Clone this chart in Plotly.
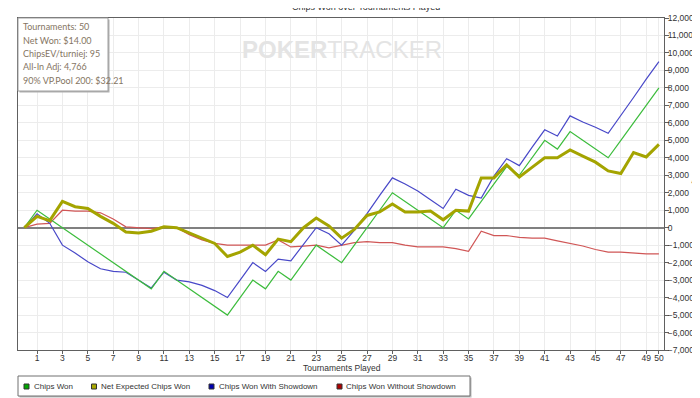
import plotly.graph_objects as go

tournaments = list(range(0, 51))

chips_won = [0, 1000, 500, 0, -500, -1000, -1500, -2000, -2500, -3000, -3500,
             -2500, -3000, -3500, -4000, -4500, -5000, -4000, -3000, -3500, -2500,
             -3000, -2000, -1000, -1500, -2000, -1000, 0, 1000, 2000, 1500,
             1000, 500, 0, 1000, 500, 1500, 2500, 3500, 3000, 4000,
             5000, 4500, 5500, 5000, 4500, 4000, 5000, 6000, 7000, 8000]

net_expected = [0, 650, 400, 1500, 1200, 1100, 650, 250, -250, -300, -200,
                50, 0, -300, -600, -900, -1650, -1400, -1000, -1550, -650,
                -800, 0, 550, 100, -600, -100, 700, 900, 1350, 900,
                900, 950, 450, 1000, 950, 2850, 2850, 3600, 2900, 3450,
                4000, 4000, 4450, 4100, 3750, 3250, 3100, 4300, 4050, 4766]

with_showdown = [0, 800, 250, -1000, -1450, -1950, -2350, -2500, -2550, -3000, -3450,
                 -2550, -3000, -3100, -3300, -3600, -4000, -3000, -2000, -2500, -1800,
                 -1900, -950, 0, -350, -1000, -150, 800, 1850, 2850, 2500,
                 2100, 1600, 1100, 2200, 1850, 1700, 2950, 3950, 3550, 4600,
                 5600, 5250, 6400, 6050, 5750, 5400, 6400, 7450, 8500, 9500]

without_showdown = [0, 200, 250, 1000, 950, 950, 850, 500, 50, 0, -50,
                    50, 0, -400, -700, -900, -1000, -1000, -1000, -1000, -700,
                    -1100, -1050, -1000, -1150, -1000, -850, -800, -850, -850, -1000,
                    -1100, -1100, -1100, -1200, -1350, -200, -450, -450, -550, -600,
                    -600, -750, -900, -1050, -1250, -1400, -1400, -1450, -1500, -1500]

series_names = ["Chips Won", "Net Expected Chips Won", "Chips Won With Showdown", "Chips Won Without Showdown"]
x_tick_vals = list(range(1, 50, 2)) + [50]
y_tick_vals = list(range(-7000, 12001, 1000))
info_lines = ["Tournaments: 50", "Net Won: $14.00", "ChipsEV/turniej: 95",
              "All-In Adj: 4,766", "90% VP.Pool 200: $32.21"]

NARROW = "Liberation Sans, Arial, sans-serif"
W, H = 700, 398
ML, MR, MT, MB = 10, 44, 10, 56
PW, PH = W - ML - MR, H - MT - MB


def px(xp):
    return (xp - ML) / PW


def py(yp):
    return (H - MB - yp) / PH


fig = go.Figure()

fig.add_trace(go.Scatter(x=tournaments, y=without_showdown, mode="lines",
                         line=dict(color="#d05656", width=1.2), showlegend=False))
fig.add_trace(go.Scatter(x=tournaments, y=with_showdown, mode="lines",
                         line=dict(color="#4848c8", width=1.2), showlegend=False))
fig.add_trace(go.Scatter(x=tournaments, y=chips_won, mode="lines",
                         line=dict(color="#3cbc3c", width=1.2), showlegend=False))
fig.add_trace(go.Scatter(x=tournaments, y=net_expected, mode="lines",
                         line=dict(color="#a4a400", width=3), showlegend=False))

shapes = []
annotations = []

# info box
shapes.append(dict(type="rect", xref="paper", yref="paper", layer="above",
                   x0=px(11.5), x1=px(101.5), y0=py(84.5), y1=py(11.5),
                   line=dict(width=0), fillcolor="#b0b0b0"))
shapes.append(dict(type="rect", xref="paper", yref="paper", layer="above",
                   x0=px(10), x1=px(100), y0=py(83), y1=py(10),
                   line=dict(width=1, color="#a0a0a0"), fillcolor="white"))
for i, t in enumerate(info_lines):
    annotations.append(dict(text=t, xref="paper", yref="paper", x=px(13), y=py(18.5 + 13.5 * i),
                            xanchor="left", yanchor="middle", showarrow=False,
                            font=dict(family="Lato, Liberation Sans, sans-serif", size=9, color="#857563")))

# watermark
annotations.append(dict(text="<b>POKER</b>TRACKER", xref="paper", yref="paper",
                        x=px(334), y=py(42), xanchor="center", yanchor="middle", showarrow=False,
                        font=dict(family="Liberation Sans, Arial, sans-serif", size=24, color="#e4e4e4")))

# title (cut off at top, as in the original)
annotations.append(dict(text="Chips Won over Tournaments Played", xref="paper", yref="paper",
                        x=px(358), y=py(-1), xanchor="center", yanchor="middle", showarrow=False,
                        font=dict(family=NARROW, size=9, color="#333333")))

# x axis title
annotations.append(dict(text="Tournaments Played", xref="paper", yref="paper",
                        x=px(334), y=py(360), xanchor="center", yanchor="middle", showarrow=False,
                        font=dict(family=NARROW, size=8.5, color="#333333")))

# y axis title
annotations.append(dict(text="$", xref="paper", yref="paper", textangle=90,
                        x=px(687), y=py(174), xanchor="center", yanchor="middle", showarrow=False,
                        font=dict(family=NARROW, size=8, color="#333333")))

# legend
shapes.append(dict(type="rect", xref="paper", yref="paper", layer="above",
                   x0=px(11.5), x1=px(463.5), y0=py(389.5), y1=py(369.5),
                   line=dict(width=0), fillcolor="#b8b8b8"))
shapes.append(dict(type="rect", xref="paper", yref="paper", layer="above",
                   x0=px(10), x1=px(462), y0=py(388), y1=py(368),
                   line=dict(width=1, color="#707070"), fillcolor="white"))
legend_colors = ["#00a800", "#a8a800", "#0000b0", "#b00000"]
legend_sq_x = [16, 83.5, 201, 329]
for name, col, sx in zip(series_names, legend_colors, legend_sq_x):
    shapes.append(dict(type="rect", xref="paper", yref="paper", layer="above",
                       x0=px(sx), x1=px(sx + 5), y0=py(381), y1=py(376),
                       line=dict(width=1, color="#333333"), fillcolor=col))
    annotations.append(dict(text=name, xref="paper", yref="paper", x=px(sx + 7.5), y=py(378.5),
                            xanchor="left", yanchor="middle", showarrow=False,
                            font=dict(family=NARROW, size=8, color="#333333")))

fig.update_layout(
    width=W, height=H,
    margin=dict(l=ML, r=MR, t=MT, b=MB, pad=0, autoexpand=False),
    paper_bgcolor="white", plot_bgcolor="white",
    showlegend=False,
    shapes=shapes, annotations=annotations,
    xaxis=dict(range=[-0.5, 50.4], tickvals=x_tick_vals, ticktext=[str(v) for v in x_tick_vals],
               automargin=False, ticklabelstandoff=-3,
               showgrid=True, gridcolor="#ececec", gridwidth=1,
               showline=True, linecolor="#606060", linewidth=1, mirror=True,
               ticks="outside", ticklen=3, tickcolor="#606060",
               tickfont=dict(family=NARROW, size=8.5, color="#333333"),
               zeroline=False, fixedrange=True),
    yaxis=dict(range=[-7000, 12000], side="right", tickvals=y_tick_vals, tickformat=",d",
               automargin=False, ticklabelstandoff=-3,
               showgrid=True, gridcolor="#ececec", gridwidth=1,
               showline=True, linecolor="#606060", linewidth=1, mirror=True,
               ticks="outside", ticklen=4, tickcolor="#606060",
               tickfont=dict(family=NARROW, size=8.5, color="#333333"),
               zeroline=True, zerolinecolor="#808080", zerolinewidth=2, fixedrange=True),
)

fig.write_html("out.html")
